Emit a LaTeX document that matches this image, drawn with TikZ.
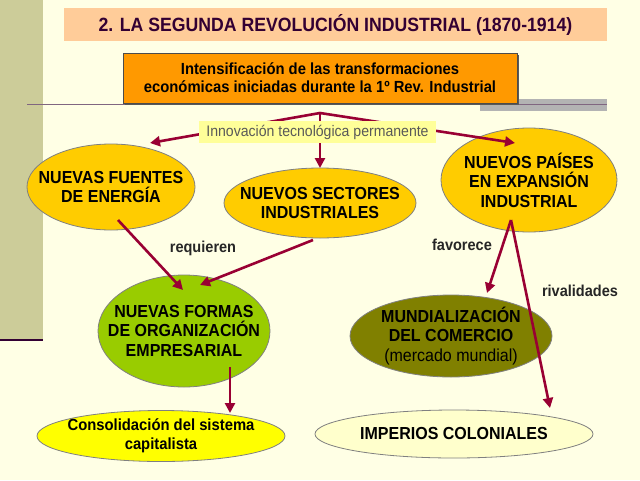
\documentclass[tikz,border=0pt]{standalone}
\usepackage{fontspec}
\setmainfont[FakeStretch=0.92]{Liberation Sans}
\usetikzlibrary{shapes.geometric,arrows.meta,calc,shadows}
\definecolor{bgc}{HTML}{FFFFE5}
\definecolor{stripc}{HTML}{CCCC99}
\definecolor{darkp}{HTML}{330033}
\definecolor{peach}{HTML}{FFCC99}
\definecolor{titlec}{HTML}{330033}
\definecolor{orangec}{HTML}{FF9900}
\definecolor{hlc}{HTML}{806680}
\definecolor{barg}{HTML}{B3B3B3}
\definecolor{gold}{HTML}{FFCC00}
\definecolor{greenc}{HTML}{99CC00}
\definecolor{olivec}{HTML}{808000}
\definecolor{yellowc}{HTML}{FFFF00}
\definecolor{paley}{HTML}{FFFFCC}
\definecolor{labely}{HTML}{FFFF99}
\definecolor{arrowc}{HTML}{990033}
\definecolor{ellgray}{HTML}{808080}
\begin{document}
\begin{tikzpicture}[x=1pt,y=-1pt,
  oval/.style={ellipse, draw=ellgray, line width=0.8pt, inner sep=0pt, outer sep=0pt},
  ovaltext/.style={font=\fontsize{17.4}{19.5}\selectfont\bfseries, align=center, text=black},
  link/.style={draw=arrowc, line width=2.6pt, -{Triangle[length=10pt,width=10pt]}},
  lbl/.style={font=\fontsize{15.8}{17}\selectfont\bfseries, text=black!85}
]
\useasboundingbox (0,0) rectangle (640,480);
\fill[bgc] (0,0) rectangle (640,480);
\fill[stripc] (0,0) rectangle (43,339);
\draw[darkp, line width=2.5pt] (0,340) -- (43,340);

% title
\node[fill=peach, minimum width=543pt, minimum height=33pt, inner sep=0pt,
  font=\fontsize{19.2}{21}\selectfont\bfseries, text=titlec] (T) at (335.5,24.5)
  {2. LA SEGUNDA REVOLUCIÓN INDUSTRIAL (1870-1914)};

% rule and bar
\fill[barg] (480,99) rectangle (607,111);
\draw[hlc, line width=1.5pt] (27,104.5) -- (607,104.5);

% top box
\node[fill=orangec, draw=black!70, line width=0.8pt, minimum width=394pt, minimum height=50pt,
  inner sep=0pt, align=center, font=\fontsize{16.1}{18}\selectfont\bfseries,
  drop shadow={shadow xshift=2pt, shadow yshift=-2pt, fill=black!65, opacity=1}] (B) at (320,78)
  {Intensificación de las transformaciones\\económicas iniciadas durante la 1º Rev. Industrial};

% ellipses
\node[oval, fill=gold, minimum width=168pt, minimum height=86pt,
  label={[ovaltext]center:NUEVAS FUENTES\\DE ENERGÍA}] (F) at (111,187) {};
\node[oval, fill=gold, minimum width=192pt, minimum height=70pt,
  label={[ovaltext]center:NUEVOS SECTORES\\INDUSTRIALES}] (S) at (320,203) {};
\node[oval, fill=gold, minimum width=176pt, minimum height=104pt,
  label={[ovaltext]center:NUEVOS PAÍSES\\EN EXPANSIÓN\\INDUSTRIAL}] (P) at (529,180) {};
\node[oval, fill=greenc, minimum width=172pt, minimum height=112pt,
  label={[ovaltext]center:NUEVAS FORMAS\\DE ORGANIZACIÓN\\EMPRESARIAL}] (O) at (184,331) {};
\node[oval, fill=olivec, minimum width=202pt, minimum height=82pt,
  label={[ovaltext]center:MUNDIALIZACIÓN\\DEL COMERCIO\\{\mdseries(mercado mundial)}}] (M) at (451,336) {};
\node[oval, fill=yellowc, minimum width=248pt, minimum height=51pt,
  label={[ovaltext, font=\fontsize{16.1}{19}\selectfont\bfseries]center:Consolidación del sistema\\capitalista}] (C) at (161,436) {};
\node[oval, fill=paley, minimum width=278pt, minimum height=48pt,
  label={[ovaltext]center:IMPERIOS COLONIALES}] (I) at (454,434) {};

% connectors
\coordinate (J) at (320,113);
\draw[link] (J) -- ($(F)+(39,-44)$);
\draw[link] (J) -- (S.north);
\draw[link] (J) -- ($(P)+(-14,-37)$);
\draw[link] ($(F)+(7,33)$) -- ($(O)+(-1,-41)$);
\draw[link] ($(S)+(-7,37)$) -- ($(O)+(16,-46)$);
\coordinate (PB) at ($(P)+(-18,40)$);
\draw[link] (PB) -- ($(M)+(36,-43)$);
\draw[link] (PB) -- ($(I)+(96,-26)$);
\draw[link] ($(O)+(46,36)$) -- ($(C)+(69,-23)$);

% label over the split
\node[fill=labely, minimum width=237pt, minimum height=22pt, inner sep=0pt,
  font=\fontsize{15.3}{17}\selectfont, text=black!65] (L) at (317.5,132)
  {Innovación tecnológica permanente};

% connector labels
\node[lbl] (rq) at (203,248) {requieren};
\node[lbl] (fv) at (462,245) {favorece};
\node[lbl] (rv) at (580,291) {rivalidades};
\end{tikzpicture}
\end{document}
